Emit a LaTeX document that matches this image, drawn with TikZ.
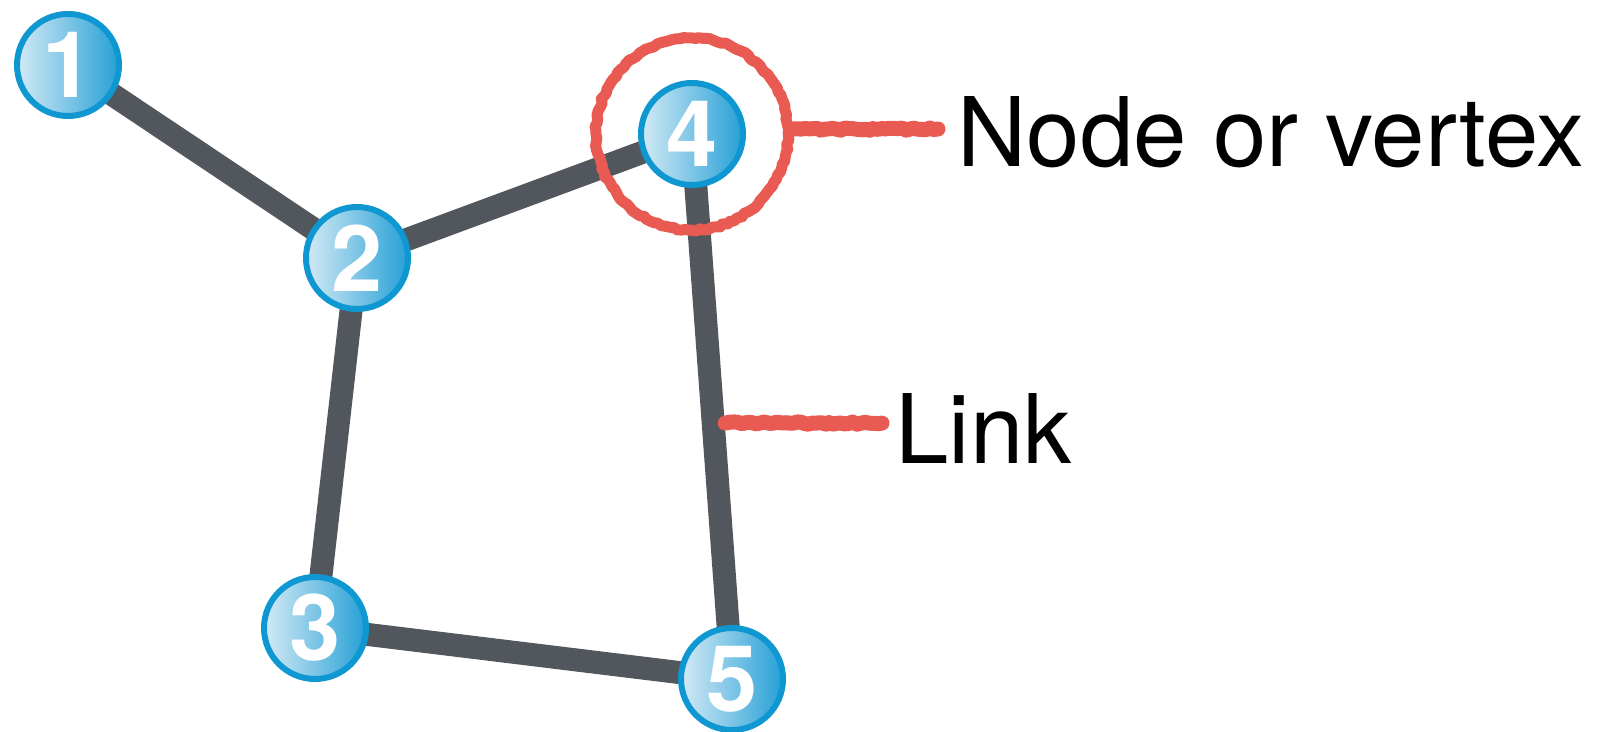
\documentclass[tikz,border=0pt]{standalone}
\usepackage{fontspec}
\setmainfont{TeX Gyre Heros}
\usetikzlibrary{positioning,backgrounds,decorations.pathmorphing}
\definecolor{nodeblue}{HTML}{0F97D2}
\definecolor{nodelight}{HTML}{D4EAF5}
\definecolor{nodedark}{HTML}{26A0D6}
\definecolor{linkgray}{HTML}{52575E}
\definecolor{markred}{HTML}{E85A52}

\begin{document}
\begin{tikzpicture}[x=0.5pt, y=-0.5pt,
	vertex/.style={circle, draw=nodeblue, line width=3pt,
		left color=nodelight, right color=nodedark,
		minimum size=51pt, inner sep=0pt, text=white,
		font=\fontsize{46}{46}\selectfont\bfseries},
	link/.style={draw=linkgray, line width=11.5pt},
	chalk/.style={draw=markred, line join=round, line cap=round, decorate,
		decoration={random steps, segment length=2pt, amplitude=0.6pt}},
	ring/.style={chalk, circle, line width=5.5pt, minimum size=96pt, inner sep=0pt},
	caption/.style={anchor=base west, inner xsep=9.5pt,
		font=\fontsize{48}{48}\selectfont}
	]
	\useasboundingbox (0,0) rectangle (1608,732);
	% the graph
	\node[vertex] (n1) at (68,65) {1};
	\node[vertex] (n2) at (357,258) {2};
	\node[vertex] (n3) at (315,628) {3};
	\node[vertex] (n4) at (692,134) {4};
	\node[vertex] (n5) at (732,679) {5};
	\begin{pgfonlayer}{background}
		\draw[link] (n1.center) -- (n2.center);
		\draw[link] (n2.center) -- (n4.center);
		\draw[link] (n2.center) -- (n3.center);
		\draw[link] (n3.center) -- (n5.center);
		\draw[link] (n4.center) -- (n5.center);
	\end{pgfonlayer}
	% annotations
	\node[ring] (mark) at (n4) {};
	\node[caption] (vname) at (938,167) {Node or vertex};
	\node[caption, inner xsep=6.5pt] (lname) at (882,464) {Link};
	\path (n4) -- coordinate[pos=0.538] (lk) (n5);
	\draw[chalk, line width=7.5pt] ([yshift=2.5pt]mark.east) -- ([yshift=2.5pt]mark.east -| vname.west);
	\draw[chalk, line width=7.5pt] ([xshift=6pt]lk) -- (lk -| lname.west);
\end{tikzpicture}
\end{document}
